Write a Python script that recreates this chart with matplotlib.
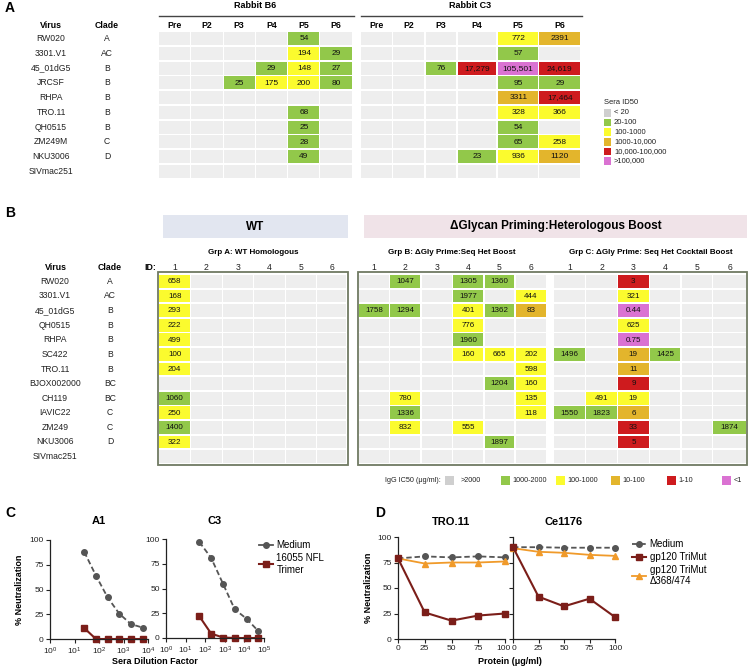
import matplotlib
matplotlib.use('Agg')
import matplotlib.pyplot as plt
from matplotlib.patches import Rectangle
from matplotlib.lines import Line2D
import matplotlib.transforms as mtransforms
import numpy as np

plt.rcParams['font.family'] = ['Liberation Sans', 'DejaVu Sans']

# ---------------- Panel A data ----------------
a_viruses = ["RW020", "3301.V1", "45_01dG5", "JRCSF", "RHPA", "TRO.11", "QH0515",
             "ZM249M", "NKU3006", "SIVmac251"]
a_clades = ["A", "AC", "B", "B", "B", "B", "B", "C", "D", ""]
a_cols = ["Pre", "P2", "P3", "P4", "P5", "P6"]
b6_id50 = [
    ["", "", "", "", "54", ""],
    ["", "", "", "", "194", "29"],
    ["", "", "", "29", "148", "27"],
    ["", "", "25", "175", "200", "80"],
    ["", "", "", "", "", ""],
    ["", "", "", "", "68", ""],
    ["", "", "", "", "25", ""],
    ["", "", "", "", "28", ""],
    ["", "", "", "", "49", ""],
    ["", "", "", "", "", ""],
]
c3_id50 = [
    ["", "", "", "", "772", "2391"],
    ["", "", "", "", "57", ""],
    ["", "", "76", "17,279", "105,501", "24,619"],
    ["", "", "", "", "95", "29"],
    ["", "", "", "", "3311", "17,464"],
    ["", "", "", "", "328", "366"],
    ["", "", "", "", "54", ""],
    ["", "", "", "", "65", "258"],
    ["", "", "", "23", "936", "1120"],
    ["", "", "", "", "", ""],
]
a_legend_labels = ["< 20", "20-100", "100-1000", "1000-10,000", "10,000-100,000", ">100,000"]

# ---------------- Panel B data ----------------
b_viruses = ["RW020", "3301.V1", "45_01dG5", "QH0515", "RHPA", "SC422", "TRO.11",
             "BJOX002000", "CH119", "IAVIC22", "ZM249", "NKU3006", "SIVmac251"]
b_clades = ["A", "AC", "B", "B", "B", "B", "B", "BC", "BC", "C", "C", "D", ""]
b_ids = ["1", "2", "3", "4", "5", "6"]
grpA_id1 = ["658", "168", "293", "222", "499", "100", "204", "", "1060", "250", "1400", "322", ""]
grpB_ic50 = [
    ["", "1047", "", "1305", "1360", ""],
    ["", "", "", "1977", "", "444"],
    ["1758", "1294", "", "401", "1362", "83"],
    ["", "", "", "776", "", ""],
    ["", "", "", "1960", "", ""],
    ["", "", "", "160", "665", "202"],
    ["", "", "", "", "", "598"],
    ["", "", "", "", "1204", "160"],
    ["", "780", "", "", "", "135"],
    ["", "1336", "", "", "", "118"],
    ["", "832", "", "555", "", ""],
    ["", "", "", "", "1897", ""],
    ["", "", "", "", "", ""],
]
grpC_ic50 = [
    ["", "", "3", "", "", ""],
    ["", "", "321", "", "", ""],
    ["", "", "0.44", "", "", ""],
    ["", "", "625", "", "", ""],
    ["", "", "0.75", "", "", ""],
    ["1496", "", "19", "1425", "", ""],
    ["", "", "11", "", "", ""],
    ["", "", "9", "", "", ""],
    ["", "491", "19", "", "", ""],
    ["1550", "1823", "6", "", "", ""],
    ["", "", "33", "", "", "1874"],
    ["", "", "5", "", "", ""],
    ["", "", "", "", "", ""],
]
# colour categories as printed in the original (row, col) -> category index
grpC_overrides = {(8, 2): 2, (9, 2): 3, (10, 2): 4}
b_legend_labels = [">2000", "1000-2000", "100-1000", "10-100", "1-10", "<1"]

# ---------------- Panel C data ----------------
c_a1_dil = [25, 75, 225, 675, 2025, 6075]
c_a1_medium = [88, 64, 42, 25.5, 15, 11.5]
c_a1_nfl = [11, 0, 0, 0, 0, 0]
c_c3_dil = [50, 200, 800, 3200, 12800, 51200]
c_c3_medium = [97, 81, 55, 29, 19.5, 7]
c_c3_nfl = [22, 4.5, 0.5, 0, 0, 0]

# ---------------- Panel D data ----------------
d_conc = [0, 25, 50, 75, 100]
d_tro_medium = [79, 81, 80, 81, 80]
d_tro_trimut = [79, 26, 18, 23, 25]
d_tro_delta = [79, 74, 75, 75, 76]
d_ce_medium = [90, 90, 89.5, 89.5, 89.5]
d_ce_trimut = [90, 41.5, 32, 39.5, 21.5]
d_ce_delta = [89, 85.5, 84.5, 82.5, 81.5]

# ---------------- styles ----------------
CELL_BG = "#EEEEEE"
CAT_COLORS = ["#CFCFCF", "#92C84A", "#FBFB2E", "#E3B52C", "#CE1B1E", "#DA72D2"]
BOX_EC = "#707A62"
C_MED = "#555555"
C_RED = "#7B1E19"
C_ORG = "#F09A2A"


def cat_id50(s):
    if s == "":
        return None
    v = float(s.replace(",", ""))
    for k, t in enumerate([20, 100, 1000, 10000, 100000]):
        if v < t:
            return k
    return 5


def cat_ic50(s):
    if s == "":
        return None
    v = float(s)
    if v > 2000:
        return 0
    if v >= 1000:
        return 1
    if v >= 100:
        return 2
    if v >= 10:
        return 3
    if v >= 1:
        return 4
    return 5


W, H = 748, 666
fig = plt.figure(figsize=(W / 100, H / 100), dpi=100)
ax = fig.add_axes([0, 0, 1, 1])
ax.set_xlim(0, W)
ax.set_ylim(H, 0)
ax.axis('off')


def draw_grid(data, lefts, widths, top, pitch, h, catf, fs, overrides=None):
    for i, row in enumerate(data):
        for j, s in enumerate(row):
            c = catf(s)
            if overrides and (i, j) in overrides:
                c = overrides[(i, j)]
            fc = CELL_BG if c is None else CAT_COLORS[c]
            y = top + i * pitch
            ax.add_patch(Rectangle((lefts[j], y), widths[j], h, fc=fc, ec='none'))
            if s:
                ax.text(lefts[j] + widths[j] / 2, y + h / 2 + 0.3, s, ha='center', va='center',
                        fontsize=fs, color='#111111')


# ================= Panel A =================
ax.text(5, 8, "A", fontsize=10, fontweight='bold', va='center', ha='left')
a_top, a_pitch, a_h = 32, 14.75, 13.2
ax.text(51, 25, "Virus", fontsize=6.3, fontweight='bold', ha='center', va='center')
ax.text(107, 25, "Clade", fontsize=6.3, fontweight='bold', ha='center', va='center')
for i, (v, c) in enumerate(zip(a_viruses, a_clades)):
    y = a_top + i * a_pitch + a_h / 2
    ax.text(51, y, v, fontsize=6.2, ha='center', va='center', color='#222222')
    ax.text(107, y, c, fontsize=6.2, ha='center', va='center', color='#222222')

b6_lefts = [159 + 32.3 * j for j in range(6)]
b6_w = [31.3] * 6
draw_grid(b6_id50, b6_lefts, b6_w, a_top, a_pitch, a_h, cat_id50, 6)
c3_lefts = [361, 393, 426, 458, 498, 539.5]
c3_w = [31, 31, 30.5, 38.5, 40.5, 40.5]
draw_grid(c3_id50, c3_lefts, c3_w, a_top, a_pitch, a_h, cat_id50, 6)
for lefts, ws, title in [(b6_lefts, b6_w, "Rabbit B6"), (c3_lefts, c3_w, "Rabbit C3")]:
    x0, x1 = lefts[0], lefts[-1] + ws[-1]
    ax.plot([x0, x1 + 2], [16, 16], color='#444444', lw=1)
    ax.text((x0 + x1) / 2, 6, title, fontsize=6.5, fontweight='bold', ha='center', va='center')
    for j, cn in enumerate(a_cols):
        ax.text(lefts[j] + ws[j] / 2, 25, cn, fontsize=6.3, fontweight='bold', ha='center',
                va='center')

# legend A
ax.text(604, 103, "Sera ID50", fontsize=5.5, ha='left', va='center', color='#222222')
for k, lab in enumerate(a_legend_labels):
    y = 113 + k * 9.6
    ax.add_patch(Rectangle((604, y - 3.8), 7.5, 7.6, fc=CAT_COLORS[k], ec='none'))
    ax.text(614, y, lab, fontsize=5.5, ha='left', va='center', color='#222222')

# ================= Panel B =================
ax.text(5, 213, "B", fontsize=10, fontweight='bold', va='center', ha='left')
ax.add_patch(Rectangle((163, 215), 185, 23, fc='#E2E6F0', ec='none'))
ax.text(255.5, 226.5, "WT", fontsize=8.5, fontweight='bold', ha='center', va='center')
ax.add_patch(Rectangle((364, 215), 383, 23, fc='#F0E3E8', ec='none'))
ax.text(555.5, 226.5, "\u0394Glycan Priming:Heterologous Boost", fontsize=8.5, fontweight='bold',
        ha='center', va='center')
ax.text(253, 252, "Grp A: WT Homologous", fontsize=5.8, fontweight='bold', ha='center', va='center')
ax.text(452, 252, "Grp B: \u0394Gly Prime:Seq Het Boost", fontsize=5.8, fontweight='bold',
        ha='center', va='center')
ax.text(651, 252, "Grp C: \u0394Gly Prime: Seq Het Cocktail Boost", fontsize=5.8,
        fontweight='bold', ha='center', va='center')

b_top, b_pitch, b_h = 275, 14.6, 12.8
ax.text(56, 268, "Virus", fontsize=6.3, fontweight='bold', ha='center', va='center')
ax.text(110, 268, "Clade", fontsize=6.3, fontweight='bold', ha='center', va='center')
ax.text(150, 268, "ID:", fontsize=6.3, fontweight='bold', ha='center', va='center')
for i, (v, c) in enumerate(zip(b_viruses, b_clades)):
    y = b_top + i * b_pitch + b_h / 2
    ax.text(55, y, v, fontsize=6.2, ha='center', va='center', color='#222222')
    ax.text(110, y, c, fontsize=6.2, ha='center', va='center', color='#222222')

grpA_ic50 = [[s, "", "", "", "", ""] for s in grpA_id1]
gA_lefts = [159.5 + 31.6 * j for j in range(6)]
gA_w = [30.5] * 5 + [28.5]
gB_lefts = [359 + 31.4 * j for j in range(6)]
gB_w = [29.8] * 6
gC_lefts = [554.5 + 31.8 * j for j in range(6)]
gC_w = [30.6] * 5 + [32.5]
draw_grid(grpA_ic50, gA_lefts, gA_w, b_top, b_pitch, b_h, cat_ic50, 5.8)
draw_grid(grpB_ic50, gB_lefts, gB_w, b_top, b_pitch, b_h, cat_ic50, 5.8)
draw_grid(grpC_ic50, gC_lefts, gC_w, b_top, b_pitch, b_h, cat_ic50, 5.8, grpC_overrides)
for lefts, ws in [(gA_lefts, gA_w), (gB_lefts, gB_w), (gC_lefts, gC_w)]:
    for j, idn in enumerate(b_ids):
        ax.text(lefts[j] + ws[j] / 2, 268, idn, fontsize=6.2, ha='center', va='center',
                color='#222222')
box_bottom = b_top + 12 * b_pitch + b_h + 2
ax.add_patch(Rectangle((158.3, 272), 190, box_bottom - 272, fc='none', ec=BOX_EC, lw=1.3))
ax.add_patch(Rectangle((357.8, 272), 389, box_bottom - 272, fc='none', ec=BOX_EC, lw=1.3))

# legend B
ax.text(441, 480, "IgG IC50 (\u03bcg/ml):", fontsize=5.2, ha='right', va='center', color='#222222')
b_leg_x = [445, 501, 556, 611, 667, 722]
for k, lab in enumerate(b_legend_labels):
    ax.add_patch(Rectangle((b_leg_x[k], 475.5), 9.5, 9, fc=CAT_COLORS[k], ec='none'))
    ax.text(b_leg_x[k] + (16 if k == 0 else 11.5), 480, lab, fontsize=5.2, ha='left', va='center',
            color='#222222')

# ================= Panels C & D =================
ax.text(5, 513, "C", fontsize=10, fontweight='bold', va='center', ha='left')
ax.text(375, 513, "D", fontsize=10, fontweight='bold', va='center', ha='left')


def pax(x0, y0, x1, y1):
    return fig.add_axes([x0 / W, 1 - y1 / H, (x1 - x0) / W, (y1 - y0) / H])


def style(a):
    for s in ['top', 'right']:
        a.spines[s].set_visible(False)
    for s in ['left', 'bottom']:
        a.spines[s].set_linewidth(0.9)
        a.spines[s].set_color('#222222')
    a.tick_params(labelsize=6, length=3, width=0.8, pad=1.5, colors='#222222')
    a.set_ylim(0, 100)
    a.set_yticks([0, 25, 50, 75, 100])
    a.patch.set_alpha(0)


def plot_c(a, dil, med, nfl, xmax):
    style(a)
    a.set_xscale('log')
    a.set_xlim(1, xmax)
    a.xaxis.set_major_locator(matplotlib.ticker.LogLocator(base=10, numticks=10))
    a.xaxis.set_minor_locator(matplotlib.ticker.NullLocator())
    a.plot(dil, med, color=C_MED, ls=(0, (3, 1.6)), lw=1.3, marker='o', ms=4, clip_on=False)
    a.plot(dil, nfl, color=C_RED, lw=1.5, marker='s', ms=4, clip_on=False)


ca1 = pax(50, 540, 148, 639)
plot_c(ca1, c_a1_dil, c_a1_medium, c_a1_nfl, 1e4)
ca1.set_ylabel("% Neutralization", fontsize=6.5, fontweight='bold', labelpad=4)
cc3 = pax(166, 539, 264, 638)
plot_c(cc3, c_c3_dil, c_c3_medium, c_c3_nfl, 1e5)
ax.text(99, 521, "A1", fontsize=8, fontweight='bold', ha='center', va='center')
ax.text(215, 521, "C3", fontsize=8, fontweight='bold', ha='center', va='center')
ax.text(155, 661, "Sera Dilution Factor", fontsize=6.5, fontweight='bold', ha='center',
        va='center')

c_handles = [Line2D([], [], color=C_MED, marker='o', ms=4, lw=1.3),
             Line2D([], [], color=C_RED, marker='s', ms=4, lw=1.5)]
fig.legend(c_handles, ["Medium", "16055 NFL\nTrimer"], loc='upper left',
           bbox_to_anchor=(259 / W, 1 - 540 / H), frameon=False, fontsize=7,
           handlelength=1.4, handletextpad=0.4, labelspacing=0.3, borderaxespad=0,
           borderpad=0)


def plot_d(a, med, tri, dlt, ylabels=True):
    style(a)
    a.set_xlim(0, 100)
    a.set_xticks([0, 25, 50, 75, 100])
    a.plot(d_conc, med, color=C_MED, ls=(0, (3, 1.6)), lw=1.3, marker='o', ms=4, clip_on=False,
           zorder=3)
    a.plot(d_conc, dlt, color=C_ORG, lw=1.3, marker='^', ms=4.5, clip_on=False, zorder=3)
    a.plot(d_conc, tri, color=C_RED, lw=1.5, marker='s', ms=4, clip_on=False, zorder=4)
    if not ylabels:
        a.set_yticklabels([])


d1 = pax(398, 537, 505, 639)
plot_d(d1, d_tro_medium, d_tro_trimut, d_tro_delta)
d1.set_ylabel("% Neutralization", fontsize=6.5, fontweight='bold', labelpad=3)
d2 = pax(513, 537, 615, 639)
plot_d(d2, d_ce_medium, d_ce_trimut, d_ce_delta, ylabels=False)
# nudge the adjacent "100" / "0" tick labels apart a little
fig.canvas.draw()
d1.get_xticklabels()[-1].set_transform(
    d1.get_xticklabels()[-1].get_transform()
    + mtransforms.ScaledTranslation(-2 / 100, 0, fig.dpi_scale_trans))
d2.get_xticklabels()[0].set_transform(
    d2.get_xticklabels()[0].get_transform()
    + mtransforms.ScaledTranslation(1.5 / 100, 0, fig.dpi_scale_trans))
ax.text(451, 522, "TRO.11", fontsize=8, fontweight='bold', ha='center', va='center')
ax.text(564, 522, "Ce1176", fontsize=8, fontweight='bold', ha='center', va='center')
ax.text(510, 662, "Protein (\u03bcg/ml)", fontsize=6.5, fontweight='bold', ha='center',
        va='center')

d_handles = [Line2D([], [], color=C_MED, marker='o', ms=4, lw=1.3, ls=(0, (3, 1.6))),
             Line2D([], [], color=C_RED, marker='s', ms=4, lw=1.5),
             Line2D([], [], color=C_ORG, marker='^', ms=4.5, lw=1.3)]
fig.legend(d_handles, ["Medium", "gp120 TriMut", "gp120 TriMut\n\u0394368/474"],
           loc='upper left', bbox_to_anchor=(632 / W, 1 - 539 / H), frameon=False, fontsize=7,
           handlelength=1.4, handletextpad=0.4, labelspacing=0.3, borderaxespad=0, borderpad=0)

fig.savefig("out.png", dpi=100)
